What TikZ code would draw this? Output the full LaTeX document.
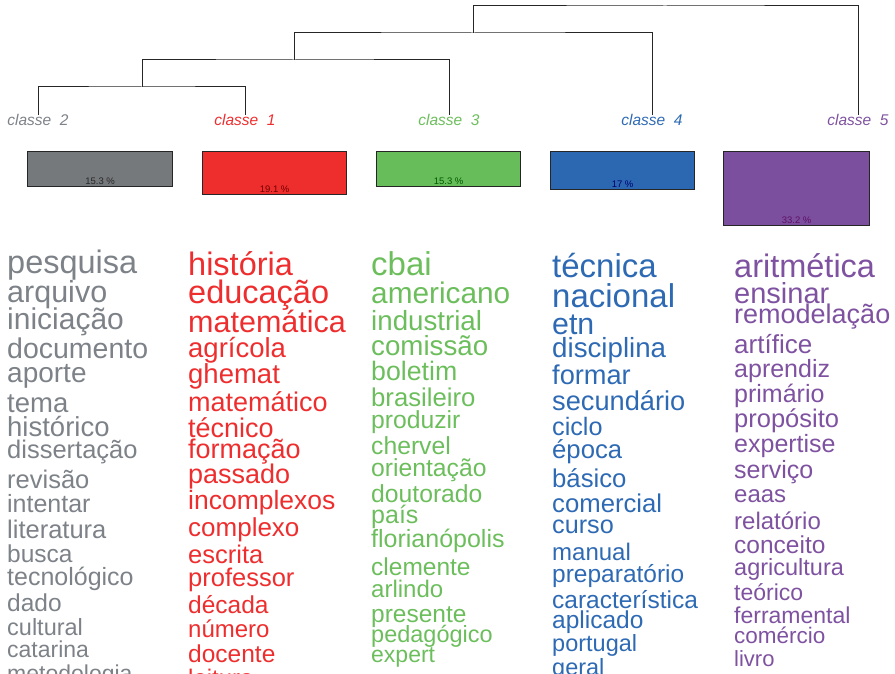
\documentclass[tikz,border=0pt]{standalone}
\usepackage{fontspec}
\setmainfont{Liberation Sans}
\usepackage{xcolor}
\usepackage{tikz}
\usetikzlibrary{positioning}
\definecolor{wgray}{RGB}{125,130,136}
\definecolor{wred}{RGB}{238,46,46}
\definecolor{wgreen}{RGB}{108,190,92}
\definecolor{wblue}{RGB}{46,106,180}
\definecolor{wpurple}{RGB}{126,82,160}
\definecolor{bgray}{RGB}{118,121,123}
\definecolor{bred}{RGB}{238,45,45}
\definecolor{bgreen}{RGB}{102,189,89}
\definecolor{bblue}{RGB}{43,104,177}
\definecolor{bpurple}{RGB}{123,79,158}
\definecolor{tpurple}{RGB}{95,15,100}
\tikzset{
  dendro/.style={draw=black!85, line width=1pt},
  clabel/.style={anchor=base, font=\fontsize{15.5}{15.5}\selectfont\itshape},
  pctbox/.style={draw=black!85, line width=1.2pt, anchor=north west, minimum height=#1},
  pct/.style={anchor=base, font=\fontsize{9.5}{9.5}\selectfont},
  word/.style={anchor=base west}
}

\begin{document}
\begin{tikzpicture}[x=1pt, y=-1pt, every node/.style={inner sep=0pt}]
\useasboundingbox (0,0) rectangle (895,674);
\clip (0,0) rectangle (895,674);
% ---- class labels
\node[clabel, text=wgray]   (c2) at (38,126)  {classe\ \ 2};
\node[clabel, text=wred]    (c1) at (245,126) {classe\ \ 1};
\node[clabel, text=wgreen]  (c3) at (449,126) {classe\ \ 3};
\node[clabel, text=wblue]   (c4) at (652,126) {classe\ \ 4};
\node[clabel, text=wpurple] (c5) at (858,126) {classe\ \ 5};
% ---- dendrogram
\coordinate (m12)   at (142,87);
\coordinate (m123)  at (294,60);
\coordinate (m1234) at (473,33);
\coordinate (root)  at (665,6);
\draw[dendro] (c2.north) |- (m12) -| (c1.north);
\draw[dendro] (m12) |- (m123) -| (c3.north);
\draw[dendro] (m123) |- (m1234) -| (c4.north);
\draw[dendro] (m1234) |- (root) -| (c5.north);
% ---- class sizes
\node[pctbox=35pt, fill=bgray,   minimum width=145pt] (b2) at (27,151)  {};
\node[pctbox=43pt, fill=bred,    minimum width=144pt] (b1) at (202,151) {};
\node[pctbox=35pt, fill=bgreen,  minimum width=144pt] (b3) at (376,151) {};
\node[pctbox=38pt, fill=bblue,   minimum width=144pt] (b4) at (550,151) {};
\node[pctbox=74pt, fill=bpurple, minimum width=146pt] (b5) at (723,151) {};
\node[pct, text=black!85]          (p2) at ([yshift=3pt]b2.south)   {15.3 \%};
\node[pct, text=red!45!black]      (p1) at ([yshift=3pt]b1.south)   {19.1 \%};
\node[pct, text=green!35!black]    (p3) at ([yshift=3pt]b3.south)   {15.3 \%};
\node[pct, text=blue!45!black]     (p4) at ([yshift=3pt]b4.south)   {17 \%};
\node[pct, text=tpurple]           (p5) at ([yshift=2.5pt]b5.south) {33.2 \%};
% ---- classe 2
\foreach \w/\y/\s [count=\i] in {pesquisa/273/32.5, arquivo/302/30.5, iniciação/329/30,
  documento/358/28.5, aporte/382/28, tema/412/27.5, histórico/436/27.5,
  dissertação/458/25.5, revisão/488/25.5, intentar/512/25, literatura/538/25.5,
  busca/562/24.5, tecnológico/585/25, dado/611/24.5, cultural/635/23.5,
  catarina/657/23, metodologia/681/23}
  \node[word, text=wgray] (g\i) at (7,\y) {\fontsize{\s}{\s}\selectfont \w};
% ---- classe 1
\foreach \w/\y/\s [count=\i] in {história/276/32.5, educação/303/32.5, matemática/332/30.5,
  agrícola/357/27.5, ghemat/383/27.5, matemático/411/27, técnico/437/27,
  formação/458/27, passado/483/27, incomplexos/509/26.5, complexo/536/26,
  escrita/563/25.5, professor/586/25.5, década/613/24.5, número/637/24,
  docente/662/24.5, leitura/686/24}
  \node[word, text=wred] (r\i) at (188,\y) {\fontsize{\s}{\s}\selectfont \w};
% ---- classe 3
\foreach \w/\y/\s [count=\i] in {cbai/276/33, americano/303/29.8, industrial/330/27.7,
  comissão/355/27.7, boletim/380/26.7, brasileiro/406/25.7, produzir/428/24.7,
  chervel/454/24.7, orientação/476/24.7, doutorado/502/24.7, país/523/25,
  florianópolis/547/25, clemente/575/24.5, arlindo/597/24, presente/622/24.5,
  pedagógico/642/23.5, expert/662/23}
  \node[word, text=wgreen] (v\i) at (371,\y) {\fontsize{\s}{\s}\selectfont \w};
% ---- classe 4
\foreach \w/\y/\s [count=\i] in {técnica/277/33, nacional/307/33, etn/334/30.3,
  disciplina/357/27.7, formar/384/27.2, secundário/410/27.2, ciclo/435/25.2,
  época/458/25.7, básico/487/25.7, comercial/512/25.7, curso/533/25.2,
  manual/560/24, preparatório/582/24.5, característica/608/24.5,
  aplicado/628/24.5, portugal/651/23.5, geral/675/23.5}
  \node[word, text=wblue] (a\i) at (552,\y) {\fontsize{\s}{\s}\selectfont \w};
% ---- classe 5
\foreach \w/\y/\s [count=\i] in {aritmética/277/32.5, ensinar/303/29, remodelação/323/27,
  artífice/353/26, aprendiz/377/25, primário/402/25, propósito/427/25.5,
  expertise/452/25, serviço/478/25, eaas/502/24, relatório/529/24,
  conceito/553/24.5, agricultura/575/23.5, teórico/600/23, ferramental/623/23,
  comércio/643/22.5, livro/666/22}
  \node[word, text=wpurple] (u\i) at (734,\y) {\fontsize{\s}{\s}\selectfont \w};
\end{tikzpicture}
\end{document}
